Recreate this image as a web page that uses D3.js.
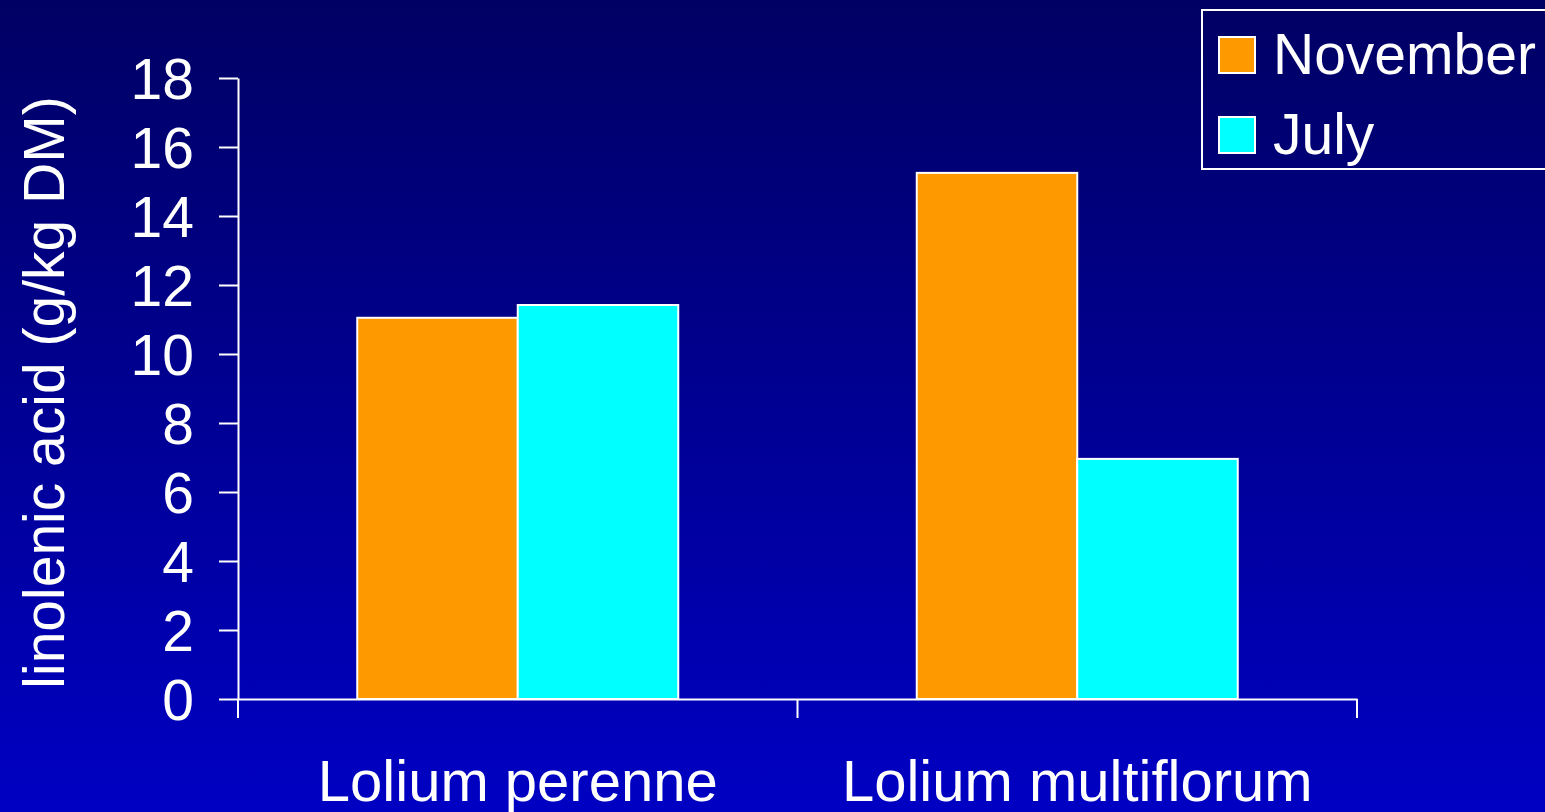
<!DOCTYPE html>
<html>
<head>
<meta charset="utf-8">
<script src="https://cdn.jsdelivr.net/npm/d3@7"></script>
<style>
  html, body { margin: 0; padding: 0; overflow: hidden; }
  svg { display: block; }
  text { font-family: "Liberation Sans", Arial, sans-serif; fill: #fff; }
</style>
</head>
<body>
<script>
// Linolenic acid content by grass species and harvest month
const categories = ["Lolium perenne", "Lolium multiflorum"];
const seriesNames = ["November", "July"];
const november = [11.05, 15.25];
const july = [11.42, 6.96];
const seriesColors = ["#FF9900", "#00FFFF"];
const yTicks = [0, 2, 4, 6, 8, 10, 12, 14, 16, 18];

const W = 1545, H = 812;
const margin = { left: 238, right: 188, top: 78, bottom: 113 };
const FS = 57;

const svg = d3.select("body").append("svg").attr("width", W).attr("height", H);

const defs = svg.append("defs");
const grad = defs.append("linearGradient").attr("id", "bg").attr("x1", 0).attr("y1", 0).attr("x2", 0).attr("y2", 1);
grad.append("stop").attr("offset", "0%").attr("stop-color", "#000063");
grad.append("stop").attr("offset", "100%").attr("stop-color", "#0000C3");
svg.append("rect").attr("width", W).attr("height", H).attr("fill", "url(#bg)");

const x0 = d3.scaleBand().domain(categories).range([margin.left, W - margin.right]).padding(0);
const x1 = d3.scaleBand().domain(seriesNames).range([0, 321]);
const y = d3.scaleLinear().domain([0, 18]).range([H - margin.bottom, margin.top]);

const rows = categories.map((c, i) => ({ cat: c, values: [november[i], july[i]] }));

// bars
const groups = svg.selectAll("g.grp").data(rows).join("g")
  .attr("class", "grp")
  .attr("transform", d => `translate(${x0(d.cat) + (x0.bandwidth() - 321) / 2},0)`);
groups.selectAll("rect").data(d => d.values.map((v, k) => ({ s: seriesNames[k], v, k })))
  .join("rect")
  .attr("x", d => x1(d.s))
  .attr("y", d => y(d.v))
  .attr("width", x1.bandwidth())
  .attr("height", d => y(0) - y(d.v))
  .attr("fill", d => seriesColors[d.k])
  .attr("stroke", "#fff")
  .attr("stroke-width", 2);

// y axis
const yAxis = svg.append("g").attr("transform", `translate(${margin.left},0)`)
  .call(d3.axisLeft(y).tickValues(yTicks).tickSize(19).tickPadding(25).tickSizeOuter(0));
yAxis.selectAll("path, line").attr("stroke", "#fff").attr("stroke-width", 2);
yAxis.selectAll("text").attr("font-size", FS).attr("fill", "#fff")
  .style("font-family", '"Liberation Sans", Arial, sans-serif').attr("dy", "0.36em");

// x axis
const xAxis = svg.append("g").attr("transform", `translate(0,${y(0)})`)
  .call(d3.axisBottom(x0).tickSize(0).tickPadding(0).tickSizeOuter(0));
xAxis.select("path").attr("stroke", "#fff").attr("stroke-width", 2);
xAxis.selectAll(".tick line").remove();
xAxis.selectAll("text")
  .attr("y", 102).attr("dy", 0)
  .attr("font-size", FS + 1).attr("fill", "#fff")
  .style("font-family", '"Liberation Sans", Arial, sans-serif');
// category separators
const seps = [margin.left, margin.left + x0.bandwidth(), W - margin.right];
svg.append("g").selectAll("line").data(seps).join("line")
  .attr("x1", d => d).attr("x2", d => d)
  .attr("y1", y(0)).attr("y2", y(0) + 19)
  .attr("stroke", "#fff").attr("stroke-width", 2);

// y label
svg.append("text")
  .attr("transform", `translate(64,${(y(0) + y(18)) / 2 + 4}) rotate(-90)`)
  .attr("text-anchor", "middle")
  .attr("font-size", FS)
  .text("linolenic acid (g/kg DM)");

// legend
const lg = svg.append("g");
lg.append("rect").attr("x", 1202).attr("y", 10).attr("width", 360).attr("height", 159)
  .attr("fill", "none").attr("stroke", "#fff").attr("stroke-width", 2);
const items = lg.selectAll("g").data(seriesNames).join("g")
  .attr("transform", (d, i) => `translate(1219,${37 + i * 80})`);
items.append("rect").attr("width", 36).attr("height", 36)
  .attr("fill", (d, i) => seriesColors[i]).attr("stroke", "#fff").attr("stroke-width", 2);
items.append("text").attr("x", 54).attr("y", 37).attr("font-size", FS).text(d => d);
</script>
</body>
</html>
